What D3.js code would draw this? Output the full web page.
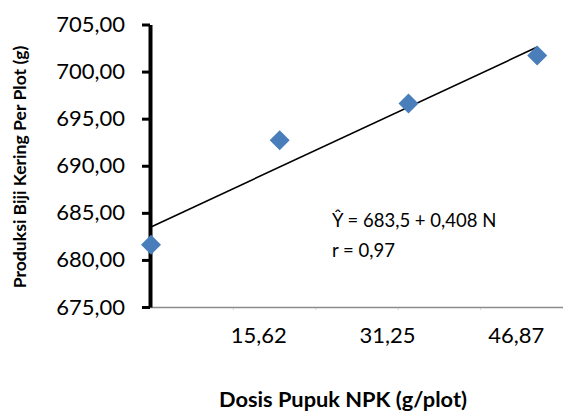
<!DOCTYPE html>
<html>
<head>
<meta charset="utf-8">
<script src="https://cdn.jsdelivr.net/npm/d3@7"></script>
<style>
  body { margin: 0; background: #fff; }
  svg { display: block; font-family: Lato, "Open Sans", sans-serif; }
</style>
</head>
<body>
<script>
// dosis pupuk (x) and produksi biji kering (y)
var dosis = [0, 15.62, 31.25, 46.87];
var produksi = [681.6, 692.7, 696.6, 701.7];

// trend line ends, Y = 683,5 + 0,408 N
var trendX = [0, 46.87];
var trendY = [683.5, 702.6];

var yTicks = [675, 680, 685, 690, 695, 700, 705];
var xMinorTicks = [10, 20, 30, 40];
var xTickLabels = ["15,62", "31,25", "46,87"];
var xTickValues = [15.62, 31.25, 46.87];

var width = 563
var height = 414

var svg = d3.select("body")
	.append("svg")
	.attr("width", width)
	.attr("height", height);

var x = d3.scaleLinear().domain([0, 50]).range([151, 563]);
var y = d3.scaleLinear().domain([675, 705]).range([307, 24.5]);

// x axis (grey, faint ticks)
svg.append("line")
	.attr("x1", 143).attr("x2", 563)
	.attr("y1", y(675) + 0.5).attr("y2", y(675) + 0.5)
	.attr("stroke", "#8c8c8c")
	.attr("stroke-width", 1.5);

svg.selectAll(".xminor")
	.data(xMinorTicks)
	.enter()
	.append("line")
	.attr("x1", function(d){ return x(d); })
	.attr("x2", function(d){ return x(d); })
	.attr("y1", y(675) + 1)
	.attr("y2", y(675) + 3)
	.attr("stroke", "#d0d0d0")
	.attr("stroke-width", 1);

svg.selectAll(".xlabel")
	.data(xTickValues)
	.enter()
	.append("text")
	.attr("x", function(d){ return x(d) - 21; })
	.attr("y", 343)
	.attr("text-anchor", "middle")
	.style("font-size", "22px")
	.style("fill", "#000")
	.text(function(d, i){ return xTickLabels[i]; });

// y axis (thick black)
var yAxis = d3.axisLeft(y)
	.tickValues(yTicks)
	.tickSize(8)
	.tickSizeOuter(0)
	.tickPadding(17)
	.tickFormat(function(d){ return d3.format(".2f")(d).replace(".", ","); });

var gy = svg.append("g")
	.attr("transform", "translate(150,0)")
	.call(yAxis);

gy.select(".domain")
	.attr("stroke", "#000")
	.attr("stroke-width", 4);
gy.selectAll(".tick line")
	.attr("stroke", "#000")
	.attr("stroke-width", 3);
gy.selectAll(".tick text")
	.style("font-size", "22px")
	.style("font-family", "Lato, 'Open Sans', sans-serif")
	.attr("fill", "#000");

// trend line
svg.append("line")
	.attr("x1", x(trendX[0])).attr("y1", y(trendY[0]))
	.attr("x2", x(trendX[1])).attr("y2", y(trendY[1]))
	.attr("stroke", "#000")
	.attr("stroke-width", 1.6);

// diamonds
svg.selectAll(".pt")
	.data(dosis)
	.enter()
	.append("path")
	.attr("d", d3.symbol(d3.symbolSquare, 200))
	.attr("transform", function(d, i){
		return "translate(" + x(d) + "," + y(produksi[i]) + ") rotate(45)";
	})
	.style("fill", "#4a7ebb");

// equation
svg.append("text")
	.attr("x", 332).attr("y", 227)
	.style("font-size", "18.5px")
	.text("Ŷ = 683,5 + 0,408 N");
svg.append("text")
	.attr("x", 332).attr("y", 257)
	.style("font-size", "18.5px")
	.text("r = 0,97");

// axis titles
svg.append("text")
	.attr("x", 343).attr("y", 407)
	.attr("text-anchor", "middle")
	.style("font-size", "21.8px")
	.style("font-weight", "bold")
	.text("Dosis Pupuk NPK (g/plot)");

svg.append("text")
	.attr("transform", "translate(26,167) rotate(-90)")
	.attr("text-anchor", "middle")
	.style("font-size", "17.6px")
	.style("font-weight", "bold")
	.text("Produksi Biji Kering Per Plot (g)");
</script>
</body>
</html>
